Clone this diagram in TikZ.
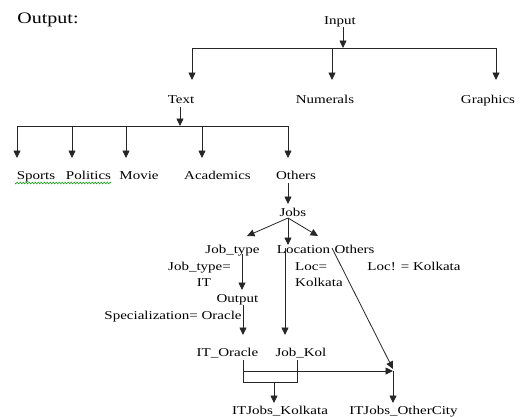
\documentclass[tikz,border=0pt]{standalone}
\usepackage{fontspec}
\setmainfont{Liberation Serif}[FakeStretch=1.25]
\usetikzlibrary{arrows.meta}
\begin{document}
\begin{tikzpicture}[x=1pt,y=-1pt,
  lbl/.style={inner sep=0pt,anchor=base,font=\fontsize{12}{14}\selectfont},
  ln/.style={line width=0.8pt,draw=black!85},
  arr/.style={ln,-{Triangle[length=7.5pt,width=7pt]}}]
\useasboundingbox[fill=white] (0,0) rectangle (523,416);
% labels
\node[lbl,font=\fontsize{16}{18}\selectfont] (title) at (48,23) {Output:};
\node[lbl] (input) at (340,24) {Input};
\node[lbl] (text) at (181,103) {Text};
\node[lbl] (numerals) at (325,103) {Numerals};
\node[lbl] (graphics) at (488,103) {Graphics};
\node[lbl] (sports) at (36,179) {Sports};
\node[lbl] (politics) at (88.5,179) {Politics};
\node[lbl] (movie) at (139,179) {Movie};
\node[lbl] (academics) at (217.5,179) {Academics};
\node[lbl] (others) at (296,179) {Others};
\node[lbl] (jobs) at (293,216) {Jobs};
\node[lbl] (jobtype) at (232.5,253) {Job\_type};
\node[lbl] (location) at (303.5,253) {Location};
\node[lbl] (others2) at (354.5,253) {Others};
\node[lbl] (jteq) at (199.5,270) {Job\_type=};
\node[lbl] (it) at (204,286) {IT};
\node[lbl,anchor=base west] (loceq) at (295,270) {Loc=};
\node[lbl,anchor=base west] (kolkata) at (295,286) {Kolkata};
\node[lbl] (locne) at (414,270) {Loc! = Kolkata};
\node[lbl] (output) at (237.5,302) {Output};
\node[lbl] (spec) at (173,319) {Specialization= Oracle};
\node[lbl] (itoracle) at (227.5,356) {IT\_Oracle};
\node[lbl] (jobkol) at (301,356) {Job\_Kol};
\node[lbl] (itjk) at (280,414) {ITJobs\_Kolkata};
\node[lbl] (itjo) at (403.5,414) {ITJobs\_OtherCity};
% spell-check underline
\draw[green!60!black,line width=0.5pt] plot[domain=15:111,samples=129,smooth] (\x,{183+0.9*sin(\x*120)});
% coordinates
\coordinate (inS) at (343,27);
\coordinate (inJ) at (343,48);
\coordinate (hL) at (192,48);
\coordinate (hM) at (332,48);
\coordinate (hR) at (496,48);
\coordinate (tText) at (192,80);
\coordinate (tNum) at (332,80);
\coordinate (tGr) at (496,80);
\coordinate (txS) at (180,107);
\coordinate (txJ) at (180,126);
\coordinate (b1) at (17,126);
\coordinate (b2) at (72,126);
\coordinate (b3) at (126,126);
\coordinate (b4) at (202,126);
\coordinate (b5) at (288,126);
\coordinate (t1) at (17,158);
\coordinate (t2) at (72,158);
\coordinate (t3) at (126,158);
\coordinate (t4) at (202,158);
\coordinate (t5) at (288,158);
\coordinate (oS) at (288,183);
\coordinate (oT) at (288,204);
\coordinate (jS) at (288,218);
\coordinate (jtT) at (247,236);
\coordinate (locT) at (288,245);
\coordinate (othT) at (318,236);
\coordinate (jtS) at (242,254);
\coordinate (outT) at (242,290);
\coordinate (outS) at (243,305);
\coordinate (itoT) at (243,335);
\coordinate (locS) at (285,248);
\coordinate (jkT) at (285,335);
\coordinate (dS) at (332,248);
\coordinate (dT) at (393,369);
\coordinate (itoS) at (243,360);
\coordinate (hJ) at (243,371);
\coordinate (hT) at (393,371);
\coordinate (brL) at (243,382);
\coordinate (brR) at (297,382);
\coordinate (jkS) at (297,360);
\coordinate (brM) at (274,382);
\coordinate (kolT) at (274,403);
\coordinate (ocS) at (393,371);
\coordinate (ocT) at (393,403);
% connectors
\draw[arr] (inS) -- (inJ);
\draw[ln] (hL) -- (hR);
\draw[arr] (hL) -- (tText);
\draw[arr] (hM) -- (tNum);
\draw[arr] (hR) -- (tGr);
\draw[arr] (txS) -- (txJ);
\draw[ln] (b1) -- (b5);
\draw[arr] (b1) -- (t1);
\draw[arr] (b2) -- (t2);
\draw[arr] (b3) -- (t3);
\draw[arr] (b4) -- (t4);
\draw[arr] (b5) -- (t5);
\draw[arr] (oS) -- (oT);
\draw[arr] (jS) -- (jtT);
\draw[arr] (jS) -- (locT);
\draw[arr] (jS) -- (othT);
\draw[arr] (jtS) -- (outT);
\draw[arr] (outS) -- (itoT);
\draw[arr] (locS) -- (jkT);
\draw[arr] (dS) -- (dT);
\draw[ln] (itoS) -- (brL) -- (brR) -- (jkS);
\draw[arr] (hJ) -- (hT);
\draw[arr] (brM) -- (kolT);
\draw[arr] (ocS) -- (ocT);
\end{tikzpicture}
\end{document}
